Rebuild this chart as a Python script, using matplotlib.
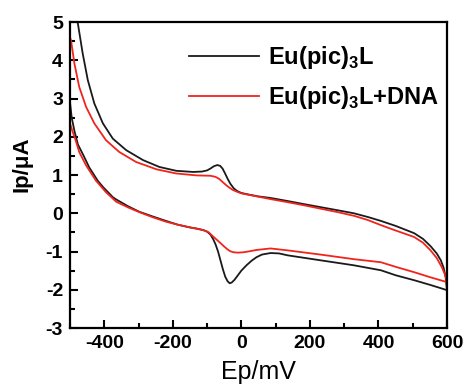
import matplotlib
matplotlib.use("Agg")
import matplotlib.pyplot as plt
from matplotlib.ticker import MultipleLocator

plt.rcParams["font.family"] = ["Liberation Sans", "DejaVu Sans"]
plt.rcParams["axes.unicode_minus"] = False
plt.rcParams["mathtext.fontset"] = "custom"
plt.rcParams["mathtext.bf"] = "Liberation Sans:bold"
plt.rcParams["mathtext.rm"] = "Liberation Sans:bold"

# Eu(pic)3L — верхня гілка (x зростає) та нижня гілка (x спадає)
blk_up_x = [-500, -490, -477, -463, -448, -429, -404, -375, -336, -287, -239, -190, -141, -115,
            -100, -90, -80, -70, -62, -55, -48, -40, -32, -22, -12, 0, 26, 50, 85, 135, 182,
            231, 280, 328, 370, 407, 450, 504, 530, 552, 570, 582, 590, 596, 600]
blk_up_y = [6.0, 5.45, 4.96, 4.18, 3.48, 2.87, 2.35, 1.95, 1.65, 1.39, 1.21, 1.11, 1.08, 1.09,
            1.12, 1.17, 1.23, 1.26, 1.24, 1.17, 1.05, 0.9, 0.77, 0.65, 0.58, 0.53, 0.48, 0.44,
            0.40, 0.32, 0.24, 0.16, 0.08, 0.0, -0.1, -0.2, -0.33, -0.52, -0.67, -0.86, -1.05,
            -1.23, -1.42, -1.67, -2.01]
blk_dn_x = [600, 550, 504, 450, 407, 328, 231, 135, 110, 85, 60, 44, 30, 15, 0, -10, -20, -28,
            -34, -40, -47, -54, -61, -68, -75, -82, -90, -100, -111, -130, -150, -185, -220,
            -260, -298, -330, -365, -375, -403, -419, -444, -460, -477, -487, -495, -500]
blk_dn_y = [-2.01, -1.87, -1.75, -1.62, -1.49, -1.36, -1.23, -1.1, -1.05, -1.04, -1.08, -1.15,
            -1.24, -1.36, -1.5, -1.62, -1.74, -1.81, -1.83, -1.78, -1.66, -1.46, -1.23, -1.0,
            -0.82, -0.68, -0.56, -0.48, -0.44, -0.4, -0.37, -0.3, -0.2, -0.08, 0.04, 0.18,
            0.36, 0.42, 0.68, 0.85, 1.2, 1.5, 1.8, 2.15, 2.5, 2.9]

# Eu(pic)3L + DNA
red_up_x = [-500, -497, -487, -473, -453, -429, -395, -356, -307, -248, -190, -131, -90, -75,
            -65, -55, -45, -35, -25, -12, 0, 40, 85, 135, 182, 231, 281, 330, 370, 407, 450,
            504, 530, 552, 570, 585, 595, 600]
red_up_y = [4.6, 4.52, 3.91, 3.3, 2.78, 2.35, 1.91, 1.6, 1.34, 1.15, 1.04, 0.99, 0.98, 0.95,
            0.9, 0.82, 0.74, 0.67, 0.61, 0.56, 0.52, 0.45, 0.37, 0.29, 0.21, 0.12, 0.03, -0.07,
            -0.18, -0.31, -0.45, -0.62, -0.77, -0.97, -1.17, -1.41, -1.62, -1.8]
red_dn_x = [600, 550, 504, 450, 407, 328, 231, 135, 85, 44, 20, 6, -10, -23, -33, -41, -50,
            -61, -72, -82, -95, -111, -150, -185, -220, -260, -298, -330, -365, -395, -424,
            -453, -473, -485, -493, -500]
red_dn_y = [-1.8, -1.67, -1.54, -1.40, -1.28, -1.2, -1.08, -0.97, -0.92, -0.96, -1.0, -1.02,
            -1.03, -1.02, -0.99, -0.94, -0.87, -0.78, -0.69, -0.61, -0.5, -0.44, -0.37, -0.3,
            -0.22, -0.1, 0.03, 0.15, 0.3, 0.55, 0.85, 1.25, 1.6, 1.95, 2.15, 2.35]

x_ticks = [-400, -200, 0, 200, 400, 600]
y_ticks = [-3, -2, -1, 0, 1, 2, 3, 4, 5]

fig = plt.figure(figsize=(4.66, 3.84), dpi=100)
ax = fig.add_axes([0.1502, 0.1458, 0.809, 0.7969])

ax.plot(blk_up_x + blk_dn_x, blk_up_y + blk_dn_y, color="#1a1a1a", lw=1.3,
        label=r"Eu(pic)$_\mathbf{3}$L")
ax.plot(red_up_x + red_dn_x, red_up_y + red_dn_y, color="#f0241c", lw=1.3,
        label=r"Eu(pic)$_\mathbf{3}$L+DNA")

ax.set_xlim(-500, 600)
ax.set_ylim(-3, 5)
ax.set_xticks(x_ticks)
ax.set_yticks(y_ticks)
ax.xaxis.set_minor_locator(MultipleLocator(100))
ax.yaxis.set_minor_locator(MultipleLocator(0.5))
ax.tick_params(which="both", direction="in", width=1.5, top=False, right=False)
ax.tick_params(which="major", length=5.5, labelsize=14, pad=5)
ax.tick_params(which="minor", length=3.5)
for lab in ax.get_xticklabels() + ax.get_yticklabels():
    lab.set_fontweight("bold")
for sp in ax.spines.values():
    sp.set_linewidth(1.6)

ax.set_xlabel("Ep/mV", fontsize=18, labelpad=6)
ax.set_ylabel("Ip/μA", fontsize=16, fontweight="bold")
ax.yaxis.set_label_coords(-0.10, 0.535)

ax.legend(loc="upper left", bbox_to_anchor=(189 / 466, 1 - 44 / 384), bbox_transform=fig.transFigure,
          frameon=False, borderpad=0, borderaxespad=0, handlelength=2.95, handletextpad=0.38,
          labelspacing=0.55, prop={"size": 17, "weight": "bold"})

fig.savefig("out.png", dpi=100)
